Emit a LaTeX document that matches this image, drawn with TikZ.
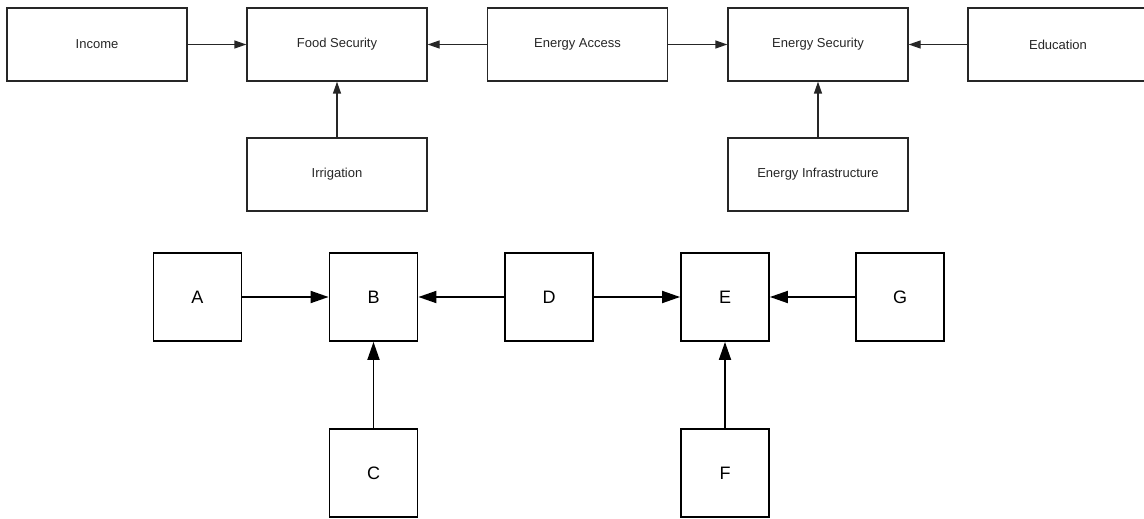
\documentclass[tikz,border=0pt]{standalone}
\usepackage{fontspec}
\setmainfont{Liberation Sans}
\usetikzlibrary{arrows.meta}
\begin{document}
\begin{tikzpicture}[x=1pt,y=-1pt,
  topbox/.style={draw=black!85, line width=1.3pt, minimum width=180pt, minimum height=73pt,
    inner sep=0pt, font=\fontsize{13}{15}\selectfont, text=black!85},
  letterbox/.style={draw=black, line width=1.8pt, minimum width=88pt, minimum height=88pt,
    inner sep=0pt, font=\fontsize{18}{20}\selectfont},
  toparrow/.style={draw=black!85, line width=1.3pt, -{Triangle[length=12pt,width=8pt]}},
  letterarrow/.style={draw=black, line width=1.8pt, -{Triangle[length=18pt,width=12pt]}}]
\useasboundingbox (0,0) rectangle (1144,519);
% top row: named factors
\node[topbox] (inc) at (97,44.5) {Income};
\node[topbox] (food) at (337,44.5) {Food Security};
\node[topbox] (acc) at (577.5,44.5) {Energy Access};
\node[topbox] (esec) at (818,44.5) {Energy Security};
\node[topbox] (edu) at (1058,44.5) {Education};
\node[topbox] (irr) at (337,174.5) {Irrigation};
\node[topbox] (infra) at (818,174.5) {Energy Infrastructure};
\draw[toparrow] (inc) -- (food);
\draw[toparrow] (acc) -- (food);
\draw[toparrow] (acc) -- (esec);
\draw[toparrow] (edu) -- (esec);
\draw[toparrow] (irr) -- (food);
\draw[toparrow] (infra) -- (esec);
% bottom row: the same structure with letters
\node[letterbox] (A) at (197.5,297) {A};
\node[letterbox] (B) at (373.5,297) {B};
\node[letterbox] (D) at (549,297) {D};
\node[letterbox] (E) at (725,297) {E};
\node[letterbox] (G) at (900,297) {G};
\node[letterbox] (C) at (373.5,473) {C};
\node[letterbox] (F) at (725,473) {F};
\draw[letterarrow] (A) -- (B);
\draw[letterarrow] (D) -- (B);
\draw[letterarrow] (D) -- (E);
\draw[letterarrow] (G) -- (E);
\draw[letterarrow] (C) -- (B);
\draw[letterarrow] (F) -- (E);
\end{tikzpicture}
\end{document}
